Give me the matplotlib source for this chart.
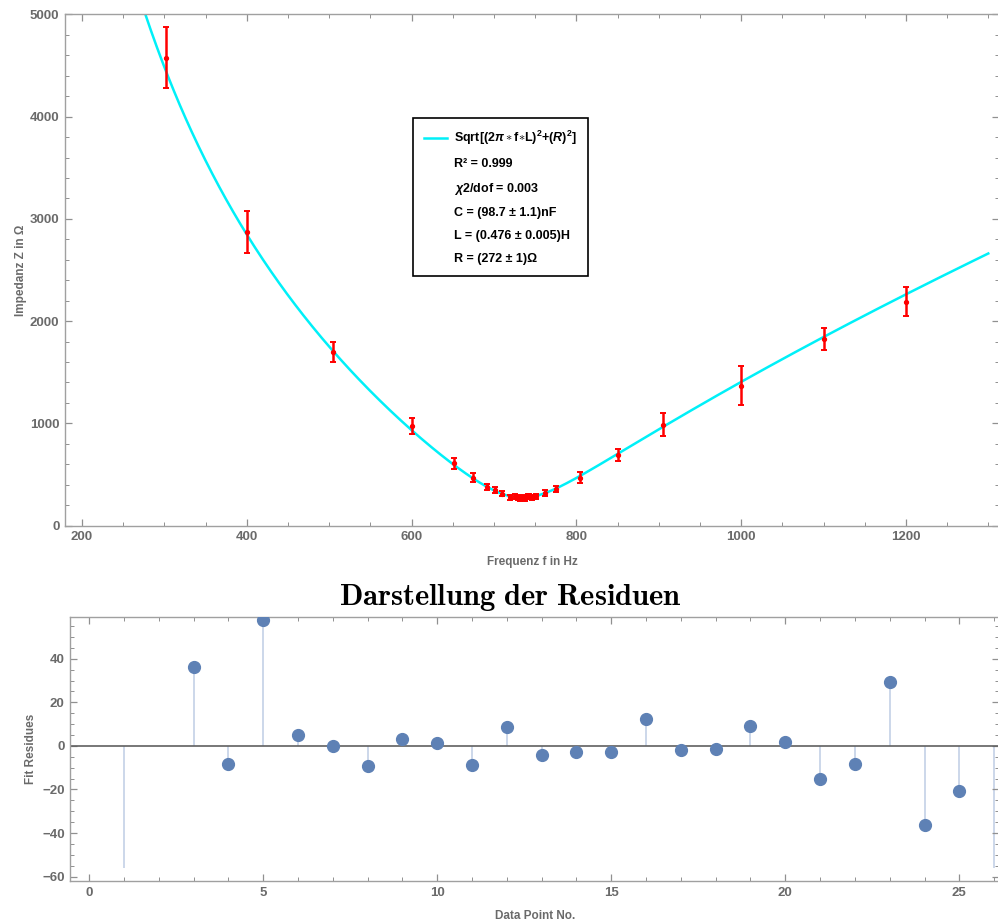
import numpy as np
import matplotlib
matplotlib.use("Agg")
import matplotlib.pyplot as plt
from matplotlib.ticker import MultipleLocator
from matplotlib.lines import Line2D
from matplotlib.patches import Rectangle
from matplotlib.font_manager import FontProperties

plt.rcParams['font.family'] = ['Liberation Sans', 'DejaVu Sans']
plt.rcParams['font.weight'] = 'bold'
plt.rcParams['mathtext.fontset'] = 'custom'
plt.rcParams['mathtext.rm'] = 'Liberation Sans:bold'
plt.rcParams['mathtext.it'] = 'Liberation Sans:italic:bold'
plt.rcParams['mathtext.bf'] = 'Liberation Sans:bold'

freq = [302, 400, 505, 601, 651, 675, 691, 701, 710, 720, 726, 729, 732, 736,
        738, 741, 743, 746, 751, 762, 775, 805, 851, 905, 1000, 1100, 1200]
imped = [4576, 2873, 1700, 975, 609, 468, 374, 345, 311, 276, 286, 272, 266, 270,
         268, 289, 280, 276, 286, 318, 357, 468, 690, 987, 1366, 1826, 2189]
imped_err = [300, 206, 100, 75, 54, 46, 30, 28, 26, 24, 24, 24, 24, 24,
             24, 24, 24, 24, 24, 26, 30, 55, 60, 111, 191, 111, 142]

# fit parameters from the legend
L_fit = 0.476
C_fit = 98.7e-9
R_fit = 272.0

# residuals
res_no = [1, 3, 4, 5, 6, 7, 8, 9, 10, 11, 12, 13, 14, 15, 16, 17, 18, 19,
          20, 21, 22, 23, 24, 25, 26]
res_val = [-75, 36.2, -8.1, 57.9, 5.0, 0.0, -9.2, 3.4, 1.2, -8.6, 8.6, -4.0,
           -2.9, -2.9, 12.5, -1.8, -1.2, 9.0, 1.7, -15.0, -8.1, 29.5, -36.5,
           -20.5, -70]

legend_lines = ["R² = 0.999", r"$\chi$2/dof = 0.003", "C = (98.7 ± 1.1)nF",
                "L = (0.476 ± 0.005)H", "R = (272 ± 1)Ω"]

GRAY = '#6a6a6a'
FRAME = '#a0a0a0'

fig = plt.figure(figsize=(9.98, 9.22), dpi=100)
W, H = 998.0, 922.0
ax1 = fig.add_axes([65 / W, 1 - 525.5 / H, (999 - 65) / W, (525.5 - 14.5) / H])
ax2 = fig.add_axes([70.3 / W, 1 - 881 / H, (999 - 70.3) / W, (881 - 616.7) / H])

# top: impedance vs frequency
fgrid = np.linspace(180, 1300, 800)
w = 2 * np.pi * fgrid
zfit = np.sqrt((w * L_fit - 1 / (w * C_fit)) ** 2 + R_fit ** 2)
fit_line, = ax1.plot(fgrid, zfit, color='#00f0f8', lw=1.8, zorder=2)
ax1.errorbar(freq, imped, yerr=imped_err, fmt='o', color='red', ms=2.8,
             elinewidth=1.8, capsize=2.2, capthick=1.4, zorder=3)

ax1.set_xlim(179.4, 1313)
ax1.set_ylim(0, 5000)
ax1.xaxis.set_major_locator(MultipleLocator(200))
ax1.xaxis.set_minor_locator(MultipleLocator(50))
ax1.yaxis.set_major_locator(MultipleLocator(1000))
ax1.yaxis.set_minor_locator(MultipleLocator(200))
ax1.set_xlabel('Frequenz f in Hz', color=GRAY, fontsize=8.5, fontweight='bold', labelpad=9)
ax1.set_ylabel('Impedanz Z in Ω', color=GRAY, fontsize=8.5, fontweight='bold', labelpad=2)

handles = [fit_line] + [Line2D([], [], color='none') for _ in legend_lines]
labels = [r"Sqrt[(2$\mathit{\pi}\ast$f$\ast$L)$^{2}$+($\mathit{R}$)$^{2}$]"] + legend_lines
leg = ax1.legend(handles, labels, loc='upper left',
                 bbox_to_anchor=(413 / W, 1 - 118 / H), bbox_transform=fig.transFigure,
                 borderaxespad=0, fancybox=False, framealpha=1, edgecolor='black',
                 prop=FontProperties(family='Liberation Sans', weight='bold', size=9),
                 handlelength=1.8, handletextpad=0.6, labelspacing=0.85,
                 borderpad=0.9)
leg.get_frame().set_linewidth(1.2)

# bottom: residuals
stems = ax2.vlines(res_no, 0, res_val, color='#c8d4e8', lw=1.3, zorder=1)
stems.set_clip_path(Rectangle((-1, -56), 30, 120, transform=ax2.transData))
ax2.axhline(0, color='#606060', lw=1.2, zorder=2)
ax2.plot(res_no, res_val, 'o', color='#5e81b5', ms=8.5, zorder=3)

ax2.set_xlim(-0.54, 26.14)
ax2.set_ylim(-62, 59.3)
ax2.xaxis.set_major_locator(MultipleLocator(5))
ax2.xaxis.set_minor_locator(MultipleLocator(1))
ax2.yaxis.set_major_locator(MultipleLocator(20))
ax2.yaxis.set_minor_locator(MultipleLocator(5))
ax2.set_xlabel('Data Point No.', color=GRAY, fontsize=8.5, fontweight='bold', labelpad=8)
ax2.set_ylabel('Fit Residues', color=GRAY, fontsize=8.5, fontweight='bold', labelpad=4)

for ax in (ax1, ax2):
    for sp in ax.spines.values():
        sp.set_color(FRAME)
        sp.set_linewidth(1.0)
    ax.tick_params(which='both', direction='in', top=True, right=True,
                   color='#909090', labelcolor=GRAY, labelsize=9.5, pad=4)
    ax.tick_params(which='major', length=5, width=0.9)
    ax.tick_params(which='minor', length=3, width=0.7)
    for lab in ax.get_xticklabels() + ax.get_yticklabels():
        lab.set_fontweight('bold')

fig.text(510 / W, 1 - 597 / H, r'$\mathbf{Darstellung\ der\ Residuen}$',
         ha='center', va='center', fontsize=22, math_fontfamily='cm')

fig.savefig('out.png', dpi=100)
